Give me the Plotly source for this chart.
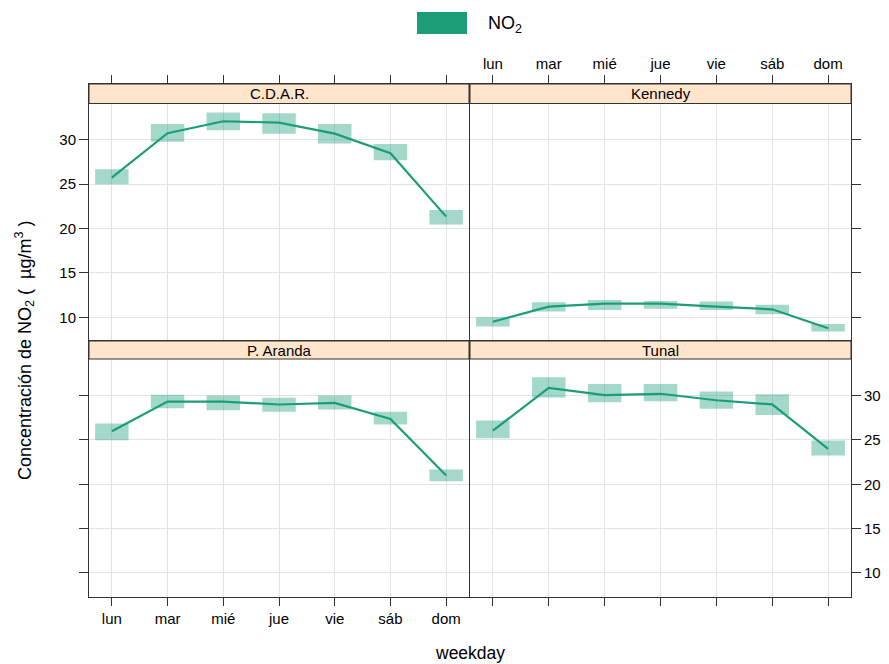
import plotly.graph_objects as go

days = ["lun", "mar", "mié", "jue", "vie", "sáb", "dom"]
day_pos = [1, 2, 3, 4, 5, 6, 7]
sites = ["C.D.A.R.", "Kennedy", "P. Aranda", "Tunal"]
y_ticks = [10, 15, 20, 25, 30]

cdar_mean = [25.75, 30.75, 32.1, 31.95, 30.7, 28.5, 21.35]
cdar_lower = [25.0, 29.8, 31.1, 30.7, 29.6, 27.7, 20.45]
cdar_upper = [26.7, 31.8, 33.1, 33.0, 31.8, 29.55, 22.1]

kennedy_mean = [9.5, 11.2, 11.55, 11.55, 11.2, 10.9, 8.77]
kennedy_lower = [8.95, 10.65, 10.83, 10.95, 10.83, 10.35, 8.4]
kennedy_upper = [10.0, 11.7, 11.96, 11.85, 11.77, 11.4, 9.25]

aranda_mean = [25.98, 29.32, 29.32, 28.99, 29.17, 27.37, 20.98]
aranda_lower = [24.96, 28.57, 28.35, 28.16, 28.42, 26.73, 20.34]
aranda_upper = [26.84, 30.1, 30.0, 29.74, 30.0, 28.16, 21.66]

tunal_mean = [26.05, 30.87, 30.04, 30.2, 29.47, 29.0, 23.99]
tunal_lower = [25.2, 29.77, 29.25, 29.36, 28.5, 27.8, 23.23]
tunal_upper = [27.2, 32.06, 31.3, 31.3, 30.45, 30.15, 24.93]

PAGE_W, PAGE_H = 889, 664
OFF = 8  # default body margin of the html page
W, H = PAGE_W - OFF, PAGE_H - OFF
LINE = "#1B9E77"
BOX = "rgba(27,158,119,0.4)"
STRIP = "#FFE5CC"
GRID = "#E3E3E3"
FRAME = "#333333"
FONT = "Liberation Sans, Arial, sans-serif"
NB = "\u00a0"

def px_x(p):
    return (p - OFF) / W

def px_y(p):
    return (PAGE_H - p) / H

panels = [
    (sites[0], cdar_mean, cdar_lower, cdar_upper, "x", "y", (89, 469), (84, 340), (84, 103.5), (7.44, 36.30)),
    (sites[1], kennedy_mean, kennedy_lower, kennedy_upper, "x2", "y2", (470, 851), (84, 340), (84, 103.5), (7.44, 36.30)),
    (sites[2], aranda_mean, aranda_lower, aranda_upper, "x3", "y3", (89, 469), (341, 597), (341, 359), (7.29, 36.15)),
    (sites[3], tunal_mean, tunal_lower, tunal_upper, "x4", "y4", (470, 851), (341, 597), (341, 359), (7.29, 36.15)),
]

fig = go.Figure()
shapes = []
annotations = []

for i, (name, mean, lo, up, xa, ya, xd, yd, sd, yr) in enumerate(panels):
    heights = [u - l for u, l in zip(up, lo)]
    fig.add_trace(go.Bar(x=day_pos, y=heights, base=lo, width=0.6,
                         marker=dict(color=BOX, line=dict(width=0)),
                         xaxis=xa, yaxis=ya, showlegend=False, hoverinfo="skip"))
    fig.add_trace(go.Scatter(x=day_pos, y=mean, mode="lines",
                             line=dict(color=LINE, width=2.2),
                             xaxis=xa, yaxis=ya, showlegend=False))
    top_row = i < 2
    left_col = i % 2 == 0
    xkey = "xaxis" if xa == "x" else "xaxis" + xa[1:]
    ykey = "yaxis" if ya == "y" else "yaxis" + ya[1:]
    x_labels = (i == 1) or (i == 2)
    y_labels = (i == 0) or (i == 3)
    fig.update_layout(**{
        xkey: dict(domain=[px_x(xd[0]), px_x(xd[1])], anchor=ya,
                   range=[0.59, 7.41], tickvals=day_pos, ticktext=days,
                   side="top" if top_row else "bottom",
                   showticklabels=x_labels, ticks="outside", ticklen=8,
                   tickwidth=1, tickcolor=FRAME,
                   showline=True, mirror=True, linecolor=FRAME, linewidth=1,
                   showgrid=True, gridcolor=GRID, gridwidth=1, zeroline=False,
                   tickfont=dict(family=FONT, size=15, color="#000")),
        ykey: dict(domain=[px_y(yd[1]), px_y(yd[0])], anchor=xa,
                   range=list(yr), tickvals=y_ticks,
                   side="left" if left_col else "right",
                   showticklabels=y_labels, ticks="outside", ticklen=9,
                   tickwidth=1, tickcolor=FRAME,
                   showline=True, mirror=True, linecolor=FRAME, linewidth=1,
                   showgrid=True, gridcolor=GRID, gridwidth=1, zeroline=False,
                   tickfont=dict(family=FONT, size=15, color="#000")),
    })
    xdref = xa + " domain"
    shapes.append(dict(type="rect", xref=xdref, yref="paper", x0=0, x1=1,
                       y0=px_y(sd[1]), y1=px_y(sd[0]), fillcolor=STRIP,
                       line=dict(color=FRAME, width=1), layer="above"))
    annotations.append(dict(text=name, xref=xdref, yref="paper", x=0.5,
                            y=px_y((sd[0] + sd[1]) / 2), showarrow=False,
                            xanchor="center", yanchor="middle",
                            font=dict(family=FONT, size=15, color="#000")))

# legend key
shapes.append(dict(type="rect", xref="paper", yref="paper",
                   x0=px_x(417), x1=px_x(467), y0=px_y(34), y1=px_y(12),
                   fillcolor=LINE, line=dict(width=0)))
annotations.append(dict(text="NO<sub>2</sub>", xref="paper", yref="paper",
                        x=px_x(486), y=px_y(24), showarrow=False,
                        xanchor="left", yanchor="middle",
                        font=dict(family=FONT, size=18, color="#000")))
# axis titles
ytitle = ("Concentración de NO<sub>2</sub>" + NB + "(" + NB + NB + "µg/m<sup>3</sup>"
          + NB + ")")
annotations.append(dict(text=ytitle,
                        xref="paper", yref="paper", x=px_x(24), y=px_y(350),
                        textangle=-90, showarrow=False, xanchor="center",
                        yanchor="middle",
                        font=dict(family=FONT, size=18, color="#000")))
annotations.append(dict(text="weekday", xref="paper", yref="paper",
                        x=px_x(470), y=px_y(653), showarrow=False,
                        xanchor="center", yanchor="middle",
                        font=dict(family=FONT, size=17.5, color="#000")))

fig.update_layout(width=W, height=H, margin=dict(l=0, r=0, t=0, b=0),
                  paper_bgcolor="white", plot_bgcolor="white",
                  barmode="overlay", shapes=shapes, annotations=annotations,
                  showlegend=False)

fig.write_html("out.html")
